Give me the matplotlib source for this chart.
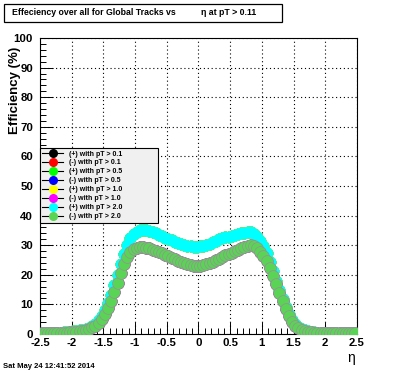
import numpy as np
import matplotlib.pyplot as plt
from matplotlib.lines import Line2D
from matplotlib.patches import Rectangle

plt.rcParams['font.family'] = ['Liberation Sans', 'DejaVu Sans']

# eta bin centres, 0.05 wide
eta = np.arange(-2.475, 2.5, 0.05)

# efficiency (%), positive tracks (upper band)
eff_plus = [
    0.4, 0.4, 0.4, 0.4, 0.5, 0.5, 0.5, 0.6, 0.7, 0.8,
    0.9, 1.0, 1.2, 1.4, 1.7, 2.1, 2.7, 3.5, 4.6, 6.1,
    8.1, 10.5, 13.3, 16.5, 20.0, 23.6, 27.0, 30.0, 32.3, 33.8,
    34.6, 35.0, 35.1, 35.0, 34.8, 34.5, 34.1, 33.6, 33.1, 32.6,
    32.1, 31.6, 31.2, 30.8, 30.4, 30.1, 29.8, 29.6, 29.5, 29.5,
    29.6, 29.8, 30.1, 30.5, 31.0, 31.5, 32.0, 32.4, 32.7, 32.9,
    33.1, 33.4, 33.7, 34.0, 34.2, 34.4, 34.3, 33.8, 32.9, 31.5,
    29.6, 27.2, 24.4, 21.3, 18.0, 14.8, 11.8, 9.0, 6.7, 4.8,
    3.3, 2.3, 1.6, 1.2, 0.9, 0.7, 0.6, 0.5, 0.5, 0.4,
    0.4, 0.4, 0.4, 0.4, 0.4, 0.4, 0.4, 0.4, 0.4, 0.4,
]

# negative tracks (lower band)
eff_minus = [
    0.3, 0.3, 0.3, 0.3, 0.3, 0.4, 0.4, 0.5, 0.5, 0.6,
    0.7, 0.8, 0.9, 1.1, 1.3, 1.7, 2.2, 2.8, 3.7, 5.0,
    6.7, 8.8, 11.3, 14.2, 17.3, 20.6, 23.6, 26.0, 27.6, 28.6,
    29.1, 29.3, 29.3, 29.2, 28.9, 28.5, 28.1, 27.6, 27.2, 26.8,
    26.3, 25.8, 25.3, 24.8, 24.3, 24.0, 23.6, 23.3, 23.1, 23.0,
    23.0, 23.2, 23.5, 23.9, 24.4, 24.9, 25.5, 26.1, 26.6, 27.0,
    27.4, 27.9, 28.4, 28.9, 29.4, 29.8, 30.0, 29.8, 29.0, 27.8,
    26.3, 24.5, 22.2, 19.6, 16.8, 13.9, 11.0, 8.3, 6.0, 4.2,
    2.8, 1.9, 1.3, 0.9, 0.7, 0.6, 0.5, 0.4, 0.4, 0.4,
    0.3, 0.3, 0.3, 0.3, 0.3, 0.3, 0.3, 0.3, 0.3, 0.3,
]

labels = ['(+) with pT > 0.1', '(-) with pT > 0.1',
          '(+) with pT > 0.5', '(-) with pT > 0.5',
          '(+) with pT > 1.0', '(-) with pT > 1.0',
          '(+) with pT > 2.0', '(-) with pT > 2.0']
colors = ['#000000', '#ff0000', '#00ff00', '#0000ff',
          '#ffff00', '#ff00ff', '#00ffff', '#59d454']
series = [eff_plus, eff_minus] * 4

fig = plt.figure(figsize=(3.96, 3.72), dpi=100)
ax = fig.add_axes([40 / 396, 1 - 334 / 372, 317 / 396, 296 / 372])

handles = []
for i, (vals, col, lab) in enumerate(zip(series, colors, labels)):
    # last series gets the faint greyish rim seen in the original
    edge = '#9c8c9c' if i == len(series) - 1 else col
    ax.plot(eta, vals, 'o', color=col, ms=8.5, mec=edge,
            mew=0.5 if i == len(series) - 1 else 0, zorder=3)
    handles.append(Line2D([], [], color='black', lw=0.8, marker='o',
                          ms=6.5, mfc=col, mec=col, mew=0, label=lab))

ax.set_xlim(-2.5, 2.5)
ax.set_ylim(0, 100)
ax.set_xticks(np.arange(-2.5, 2.51, 0.5))
ax.set_xticklabels(['-2.5', '-2', '-1.5', '-1', '-0.5', '0', '0.5', '1', '1.5', '2', '2.5'])
ax.set_xticks(np.arange(-2.5, 2.51, 0.1), minor=True)
ax.set_yticks(np.arange(0, 101, 10))
ax.set_yticks(np.arange(0, 101, 2), minor=True)
ax.tick_params(which='both', direction='in', top=False, right=False,
               width=0.7, labelsize=8.2)
ax.tick_params(which='major', length=9)
ax.tick_params(which='minor', length=4.5)
ax.tick_params(axis='x', pad=3)
ax.tick_params(axis='y', pad=5)
for t in ax.get_xticklabels() + ax.get_yticklabels():
    t.set_fontweight('bold')
for s in ax.spines.values():
    s.set_linewidth(0.8)
ax.grid(True, which='major', color='black', ls=(0, (1, 2.5)), lw=0.8)

leg = ax.legend(handles=handles, loc='upper left',
                bbox_to_anchor=(0.0, 0.628, 0.372, 0.0), mode='expand',
                borderaxespad=0, prop={'weight': 'bold', 'size': 5},
                handlelength=2.9, handletextpad=0.9, labelspacing=0.28,
                borderpad=0.35, fancybox=False, framealpha=1)
leg.get_frame().set_facecolor('#f0f0f0')
leg.get_frame().set_edgecolor('black')
leg.get_frame().set_linewidth(0.8)
leg.set_zorder(5)

# title pave
fig.patches.append(Rectangle((3.5 / 396, 1 - 21.5 / 372), 278 / 396, 18 / 372,
                             transform=fig.transFigure, fc='white', ec='black', lw=0.9))
fig.text(12 / 396, 1 - 12.5 / 372, 'Effeciency over all for Global Tracks vs',
         fontsize=6.3, fontweight='bold', va='center', ha='left')
fig.text(201 / 396, 1 - 12.5 / 372, 'η at pT > 0.11',
         fontsize=6.3, fontweight='bold', va='center', ha='left')

fig.text(15 / 396, 1 - 47 / 372, 'Efficiency (%)', rotation=90,
         fontsize=9.5, fontweight='bold', ha='center', va='top')
fig.text(351 / 396, 1 - 358 / 372, 'η', fontsize=10, ha='center', va='center')
fig.text(3 / 396, 1 - 366 / 372, 'Sat May 24 12:41:52 2014',
         fontsize=5.5, fontweight='bold', ha='left', va='center')

fig.savefig('out.png', dpi=100)
